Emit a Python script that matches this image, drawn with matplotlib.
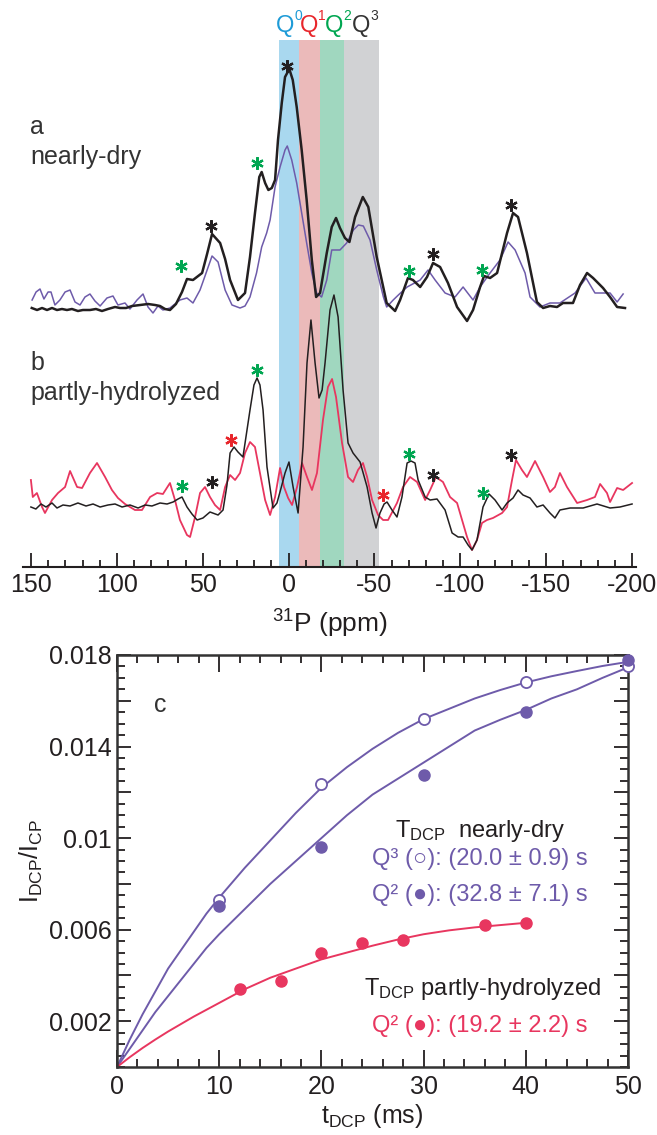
import numpy as np
import matplotlib
matplotlib.use("Agg")
import matplotlib.pyplot as plt
from matplotlib.ticker import MultipleLocator

plt.rcParams['font.family'] = ['Liberation Sans', 'DejaVu Sans']
plt.rcParams['mathtext.fontset'] = 'custom'
plt.rcParams['mathtext.rm'] = 'Liberation Sans'
plt.rcParams['mathtext.it'] = 'Liberation Sans'

INK = "#231f20"
PURPLE = "#6e5baa"
PINK = "#e8365f"
RED = "#e8262b"
GREEN = "#00a651"
BLUE = "#1e9bd7"

# ---- panel a / b: 31P spectra (ppm, intensity in arbitrary units) ----
a_dry_ppm = [149.6, 146.5, 143.6, 140.7, 137.8, 134.9, 132.0, 129.1, 126.2, 122.7, 119.8, 115.7,
             112.2, 108.7, 105.2, 101.1, 98.2, 94.7, 91.2, 86.5, 81.9, 77.8, 74.9, 72.0, 69.1,
             65.6, 62.1, 59.2, 55.7, 50.4, 47.5, 44.6, 39.9, 37.0, 34.1, 29.5, 25.4, 22.5, 19.6,
             17.1, 15.7, 13.7, 11.8, 9.8, 7.9, 6.2, 4.0, 2.1, -0.4, -2.4, -4.7, -7.6, -10.5,
             -13.5, -16.0, -18.3, -22.2, -25.1, -27.6, -29.9, -32.8, -35.4, -38.7, -43.2, -46.4,
             -51.3, -57.1, -62.0, -64.9, -69.5, -72.4, -76.6, -80.6, -84.1, -88.2, -92.8, -98.1,
             -103.9, -107.4, -111.5, -113.8, -117.3, -121.4, -127.2, -130.7, -133.6, -138.8,
             -144.6, -148.2, -152.2, -156.3, -159.8, -165.6, -169.7, -173.8, -177.3, -183.1,
             -187.2, -191.3, -195.9]
a_dry_int = [1, -1, 1, -1, 1, -1, 0, -1, 0, -2, -1, -1,
             0, -2, 0, 2, 1, 1, 3, 4, 5, 4, 3, 0, -1,
             5, 17, 30, 29, 36, 55, 75, 66, 50, 29, 9, 16, 52, 96,
             132, 137, 126, 119, 121, 129, 169, 206, 232, 240, 229, 202, 159, 109,
             49, 12, 16, 56, 82, 91, 81, 71, 67, 92, 112, 102,
             52, 6, -2, 9, 31, 29, 22, 32, 46, 42, 26, 2,
             -12, -1, 22, 33, 31, 36, 76, 96, 92, 56,
             7, 1, 3, 2, 6, 6, 24, 36, 31, 21,
             12, 2, 1]

a_ref_ppm = [149.4, 147.1, 144.8, 142.5, 140.1, 138.4, 136.1, 133.2, 130.2, 127.3, 124.4, 121.5,
             118.6, 115.7, 112.8, 109.8, 105.8, 102.3, 99.4, 95.3, 92.4, 88.3, 84.8, 81.9, 79.0,
             76.1, 73.2, 69.1, 63.3, 59.2, 55.7, 51.6, 48.7, 44.6, 41.1, 37.0, 33.0, 28.3, 25.4,
             22.5, 18.7, 15.7, 12.8, 10.8, 7.9, 5.0, 2.1, 0.8, -1.8, -4.7, -7.6, -10.5, -13.5,
             -16.3, -19.2, -22.2, -25.1, -29.9, -33.8, -37.7, -40.6, -43.5, -47.4, -51.3, -55.2,
             -57.1, -60.9, -63.9, -69.0, -76.6, -81.2, -85.3, -91.1, -96.9, -101.6, -107.4,
             -111.5, -117.3, -123.1, -127.8, -131.9, -137.7, -140.6, -146.4, -152.2, -158.0,
             -166.8, -173.2, -178.4, -187.2, -191.3, -194.8]
a_ref_int = [9, 17, 20, 10, 17, 17, 4, 9, 17, 19, 7, 4,
             12, 15, 8, 3, 11, 13, 4, 6, 0, 9, 15, 2, -4,
             3, -1, 1, 9, 11, 6, 19, 33, 53, 47, 19, 4, 1, 3,
             12, 36, 62, 76, 89, 122, 142, 159, 163, 149, 126, 96, 66, 36,
             16, 12, 29, 59, 59, 66, 79, 84, 83, 69, 39, 12,
             2, 9, 14, 22, 29, 39, 29, 16, 12, 22, 9,
             22, 36, 49, 67, 59, 36, 12, 2, 6, 6,
             16, 31, 16, 16, 7, 15]

b_dry_ppm = [150.1, 147.2, 144.2, 141.3, 137.8, 134.9, 131.4, 127.3, 122.7, 118.0, 113.9, 109.8,
             105.2, 101.1, 97.0, 92.4, 87.7, 83.6, 79.6, 74.9, 70.8, 67.3, 64.4, 62.1, 59.2,
             56.3, 53.3, 49.9, 45.8, 41.1, 38.2, 35.9, 34.1, 31.8, 29.5, 26.6, 22.5, 20.2, 18.4,
             16.7, 14.9, 12.6, 9.1, 6.8, 4.4, 2.1, -0.2, -2.6, -5.5, -8.4, -10.7, -13.0, -15.4,
             -17.7, -19.5, -21.2, -24.1, -26.4, -28.8, -31.7, -34.6, -37.5, -41.6, -45.7, -48.6,
             -50.9, -53.2, -55.6, -57.3, -60.2, -63.1, -66.0, -69.0, -71.3, -73.6, -75.4, -79.5,
             -82.4, -86.4, -91.1, -95.2, -98.7, -101.6, -104.5, -106.8, -109.7, -113.2, -116.7,
             -120.2, -124.3, -127.2, -130.7, -133.6, -136.5, -140.6, -144.6, -148.2, -152.2,
             -155.1, -158.0, -163.9, -171.5, -179.6, -187.2, -193.0, -200.0]
b_dry_int = [0, -2, 3, 0, 4, -1, 2, 1, 4, 1, 3, 0,
             2, 3, 0, 2, -1, 2, 1, 4, 3, 5, 8, 10, 0,
             -7, -13, -11, -5, -8, -3, 22, 54, 60, 55, 50, 97, 122, 129,
             122, 97, 40, -1, 4, 19, 34, 45, 20, -6, 60, 144, 187, 144,
             109, 117, 144, 197, 212, 190, 117, 64, 54, 45, 20, -6,
             -21, -6, 3, 5, -3, -10, 10, 44, 46, 44, 27, 10,
             7, 8, -3, -26, -30, -30, -38, -43, -33, 0, 13,
             7, -3, 4, 9, 17, 12, 9, 0, 2, -6,
             -11, -3, -1, -1, 3, -1, 0, 3]

b_hyd_ppm = [150.1, 149.0, 146.6, 143.6, 141.9, 137.8, 134.3, 130.2, 127.3, 123.2, 120.3, 115.7,
             111.6, 106.9, 102.9, 99.4, 95.3, 89.5, 85.4, 80.7, 76.6, 73.2, 69.1, 66.2, 63.3,
             59.2, 57.4, 54.5, 51.6, 48.7, 45.8, 42.9, 39.9, 37.0, 34.1, 31.2, 28.3, 25.4, 22.5,
             19.6, 16.7, 13.7, 10.8, 7.9, 5.0, 2.7, 0.3, -2.0, -4.9, -7.8, -10.7, -13.6, -16.5,
             -20.0, -22.9, -25.3, -27.6, -31.1, -34.6, -37.5, -40.4, -43.3, -45.7, -48.6, -52.1,
             -55.0, -57.9, -63.1, -66.6, -70.7, -74.8, -79.5, -82.4, -85.8, -89.9, -94.0, -98.1,
             -101.0, -103.9, -106.8, -109.7, -112.6, -115.5, -119.0, -124.3, -127.2, -130.1,
             -132.4, -135.9, -138.8, -143.5, -148.2, -152.2, -155.1, -158.0, -162.1, -168.0,
             -173.8, -178.4, -181.4, -185.4, -187.2, -191.3, -194.8, -200.0]
b_hyd_int = [27, 10, 14, 0, -6, 7, 14, 20, 36, 20, 19, 34,
             44, 30, 17, 9, 3, -3, -3, 10, 14, 13, 24, 7, -13,
             -28, -30, -10, 14, 20, 10, 2, -3, 20, 32, 27, 34, 54, 65,
             60, 34, 7, -8, 10, 39, 20, 9, 2, 20, 44, 30, 17, 34,
             87, 120, 128, 110, 64, 30, 25, 37, 44, 30, 7, -8,
             -13, -13, 4, 20, 30, 25, 7, 17, 30, 25, 10, 4,
             -13, -30, -43, -33, -16, -13, -11, -6, 0, 27,
             47, 37, 30, 46, 30, 15, 20, 34, 20, 4,
             7, 10, 23, 14, 5, 19, 17, 24]

# chemical-shift windows of the Q^n units (ppm)
q_labels = ["0", "1", "2", "3"]
q_edges = [5.5, -6.0, -18.0, -32.0, -52.5]
q_band_colors = ["#a9d8ef", "#ebbaba", "#a0d7bf", "#d1d2d4"]
q_text_colors = [BLUE, RED, GREEN, "#333333"]

# spinning sidebands: (ppm, height above baseline, colour)
stars_a = [(62.6, 43, GREEN), (45.2, 83, INK), (18.4, 146, GREEN), (0.9, 243, INK),
           (-70.1, 38, GREEN), (-84.1, 55, INK), (-112.6, 39, GREEN), (-129.5, 104, INK)]
stars_b = [(62.1, 21, GREEN), (44.6, 25, INK), (33.5, 67, RED), (18.4, 137, GREEN),
           (-55.0, 12, RED), (-70.1, 53, GREEN), (-84.1, 32, INK), (-113.2, 14, GREEN),
           (-129.5, 52, INK)]

# ---- panel c: DCP build-up ----
t_q3 = [10, 20, 30, 40, 50]
r_q3 = [0.0073, 0.01235, 0.0152, 0.0168, 0.01752]
t_q2 = [10, 20, 30, 40, 50]
r_q2 = [0.00703, 0.00963, 0.01276, 0.01552, 0.0178]
t_hyd = [12, 16, 20, 24, 28, 36, 40]
r_hyd = [0.00339, 0.00376, 0.00496, 0.0054, 0.00555, 0.0062, 0.0063]

# fitted curves
fit_t = [0, 1.25, 2.5, 3.75, 5, 6.25, 7.5, 8.75, 10, 12.5, 15, 17.5, 20, 22.5, 25, 27.5, 30,
         32.5, 35, 37.5, 40, 42.5, 45, 47.5, 50]
fit_q3 = [0, 0.0012, 0.0023, 0.0033, 0.0043, 0.0051, 0.0059, 0.0067, 0.0074, 0.0087, 0.0099,
          0.0111, 0.0122, 0.0131, 0.0139, 0.0146, 0.0152, 0.01565, 0.0161, 0.01647, 0.0168,
          0.01707, 0.0173, 0.01752, 0.0177]
fit_q2 = [0, 0.0008, 0.0016, 0.0024, 0.0031, 0.0038, 0.0045, 0.0052, 0.0058, 0.0069, 0.0080,
          0.0090, 0.0100, 0.0110, 0.0119, 0.0126, 0.0133, 0.0140, 0.0147, 0.01517, 0.0156,
          0.0161, 0.0165, 0.0170, 0.01746]
fit_hyd_t = [0, 1.25, 2.5, 3.75, 5, 7.5, 10, 12.5, 15, 17.5, 20, 22.5, 25, 27.5, 30, 32.5, 35,
             37.5, 40]
fit_hyd = [0, 0.00043, 0.00083, 0.0012, 0.00155, 0.0022, 0.0028, 0.0034, 0.0039, 0.0043,
           0.0047, 0.0050, 0.0053, 0.00557, 0.0058, 0.00597, 0.0061, 0.0062, 0.0063]

W, H = 657, 1135
fig = plt.figure(figsize=(W / 100, H / 100), dpi=100)

# ---------------- spectra ----------------
ax = fig.add_axes([23 / W, 1 - 567 / H, 613 / W, 527 / H])
off_a, off_b = 258, 60
for i in range(4):
    ax.axvspan(q_edges[i], q_edges[i + 1], color=q_band_colors[i], lw=0, zorder=0)
ax.plot(a_ref_ppm, np.array(a_ref_int) + off_a, color=PURPLE, lw=1.1, zorder=2)
ax.plot(a_dry_ppm, np.array(a_dry_int) + off_a, color=INK, lw=1.8, zorder=3)
ax.plot(b_hyd_ppm, np.array(b_hyd_int) + off_b, color=PINK, lw=1.3, zorder=2)
ax.plot(b_dry_ppm, np.array(b_dry_int) + off_b, color=INK, lw=1.1, zorder=3)
for stars, off in ((stars_a, off_a), (stars_b, off_b)):
    for p, h, c in stars:
        ax.plot(p, h + off, marker=(6, 2, 0), ms=9, mew=1.6, color=c, zorder=4)

ax.set_xlim(154.7, -202.3)
ax.set_ylim(0, 527)
for s in ("top", "left", "right"):
    ax.spines[s].set_visible(False)
ax.spines["bottom"].set_linewidth(1.5)
ax.spines["bottom"].set_color(INK)
ax.set_yticks([])
ax.xaxis.set_major_locator(MultipleLocator(50))
ax.xaxis.set_minor_locator(MultipleLocator(10))
ax.tick_params(axis="x", which="major", direction="in", length=10, width=1.3, colors=INK,
               labelsize=18, pad=4)
ax.tick_params(axis="x", which="minor", direction="in", length=5, width=1.3, colors=INK)
ax.set_xticks([150, 100, 50, 0, -50, -100, -150, -200])
ax.set_xticklabels(["150", "100", "50", "0", "-50", "-100", "-150", "-200"])
ax.set_xlabel("$^{31}$P (ppm)", fontsize=19, color=INK, labelpad=8)

fig.text(30 / W, 1 - 127 / H, "a", fontsize=18, color="#333333", va="center")
fig.text(30 / W, 1 - 157 / H, "nearly-dry", fontsize=18, color="#333333", va="center")
fig.text(30 / W, 1 - 363 / H, "b", fontsize=18, color="#333333", va="center")
fig.text(30 / W, 1 - 393 / H, "partly-hydrolyzed", fontsize=18, color="#333333", va="center")

q_x = [285, 309, 334, 361]
for i in range(4):
    fig.text(q_x[i] / W, 1 - 26 / H, "Q", fontsize=17, color=q_text_colors[i],
             ha="center", va="center")
    fig.text((q_x[i] + 13) / W, 1 - 16 / H, q_labels[i], fontsize=10,
             color=q_text_colors[i], ha="center", va="center")

# ---------------- DCP build-up ----------------
bx = fig.add_axes([117 / W, 1 - 1067 / H, 511 / W, 412 / H])
bx.plot(fit_t, fit_q3, color=PURPLE, lw=1.4, zorder=2)
bx.plot(fit_t, fit_q2, color=PURPLE, lw=1.4, zorder=2)
bx.plot(fit_hyd_t, fit_hyd, color=PINK, lw=1.4, zorder=2)
bx.plot(t_q3, r_q3, "o", ms=8, mfc="white", mec=PURPLE, mew=1.3, zorder=3, clip_on=False)
bx.plot(t_q2, r_q2, "o", ms=8, color=PURPLE, zorder=4, clip_on=False)
bx.plot(t_hyd, r_hyd, "o", ms=8, color=PINK, zorder=4, clip_on=False)

bx.set_xlim(0, 50)
bx.set_ylim(0, 0.018)
bx.xaxis.set_major_locator(MultipleLocator(10))
bx.xaxis.set_minor_locator(MultipleLocator(2))
bx.yaxis.set_minor_locator(MultipleLocator(0.0005))
bx.set_yticks([0.002, 0.004, 0.006, 0.008, 0.01, 0.012, 0.014, 0.016, 0.018])
bx.set_yticklabels(["0.002", "", "0.006", "", "0.01", "", "0.014", "", "0.018"])
bx.tick_params(which="both", direction="in", top=True, right=True, colors=INK,
               labelsize=18, width=1.3)
bx.tick_params(axis="x", which="major", length=12, pad=6)
bx.tick_params(axis="x", which="minor", length=6)
bx.tick_params(axis="y", which="major", length=10, pad=4)
bx.tick_params(axis="y", which="minor", length=6)
for s in bx.spines.values():
    s.set_linewidth(1.8)
    s.set_color("#333333")
bx.set_xlabel(r"t$_{\mathrm{DCP}}$ (ms)", fontsize=18, color=INK, labelpad=2)
bx.set_ylabel(r"I$_{\mathrm{DCP}}$/I$_{\mathrm{CP}}$", fontsize=18, color=INK, labelpad=3)

bx.text(3.6, 0.0158, "c", fontsize=18, color="#333333", va="center")
bx.text(35.5, 0.0103, r"T$_{\mathrm{DCP}}$  nearly-dry", fontsize=17, color=INK,
        ha="center", va="center")
bx.text(35.5, 0.0091, "Q³ (○): (20.0 ± 0.9) s", fontsize=17, color=PURPLE,
        ha="center", va="center")
bx.text(35.5, 0.0075, "Q² (●): (32.8 ± 7.1) s", fontsize=17, color=PURPLE,
        ha="center", va="center")
bx.text(35.8, 0.0034, r"T$_{\mathrm{DCP}}$ partly-hydrolyzed", fontsize=17, color=INK,
        ha="center", va="center")
bx.text(35.5, 0.0018, "Q² (●): (19.2 ± 2.2) s", fontsize=17, color=PINK,
        ha="center", va="center")

fig.savefig("out.png", dpi=100)
